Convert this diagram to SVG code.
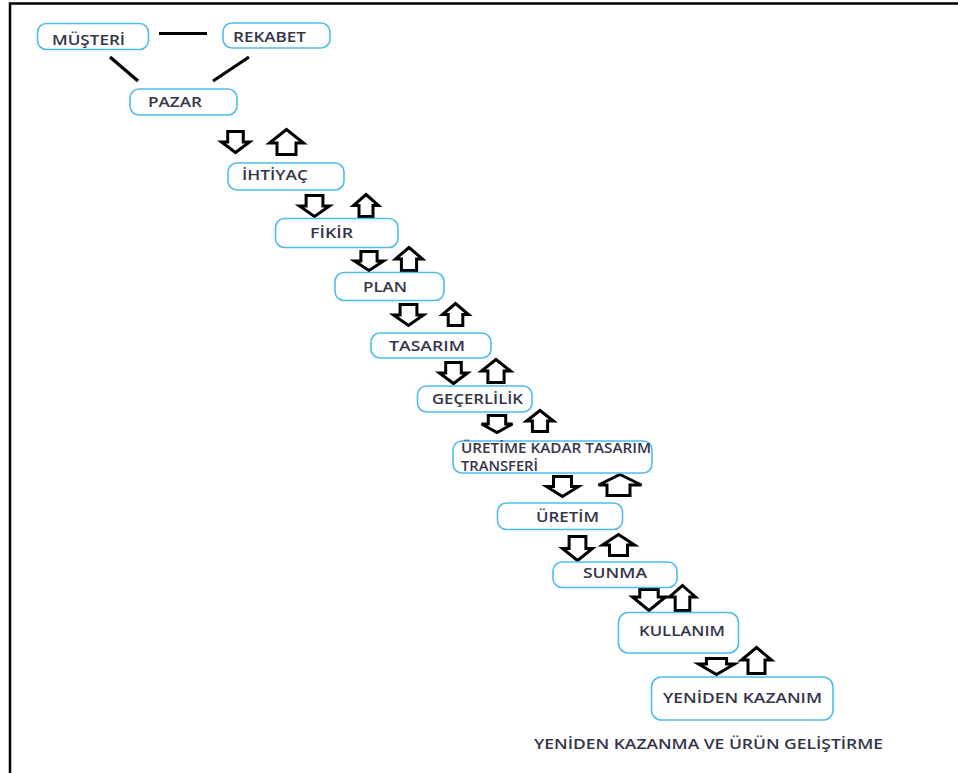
<svg xmlns="http://www.w3.org/2000/svg" width="958" height="773" viewBox="0 0 958 773">
<style>
.box{fill:#fff;stroke:#4fbdec;stroke-width:1.6}
.lbl{font-family:"Open Sans","Liberation Sans",sans-serif;font-weight:600;font-size:14px;fill:#35354a}
.ln{stroke:#000;stroke-width:3.2;fill:none}
.ar{fill:#fff;stroke:#000;stroke-width:3;stroke-linejoin:miter}
</style>
<rect x="0" y="0" width="958" height="773" fill="#fff"/>
<path d="M10 773V3.5H958" fill="none" stroke="#000" stroke-width="2.5"/>
<g id="connectors">
<line class="ln" x1="159" y1="33.5" x2="207" y2="33.5"/>
<line class="ln" x1="110" y1="57" x2="138" y2="81"/>
<line class="ln" x1="249" y1="57" x2="213" y2="81"/>
<path class="ar" d="M227.7 131.5H243.3V142H249.5L235.5 152.5L221.5 142H227.7Z"/>
<path class="ar" d="M306.1 195.5H322.9V206H329.5L314.5 216.5L299.5 206H306.1Z"/>
<path class="ar" d="M360.9 251.5H377.1V261H383.5L369 270.5L354.5 261H360.9Z"/>
<path class="ar" d="M400.1 304.5H416.9V315H423.5L408.5 325.5L393.5 315H400.1Z"/>
<path class="ar" d="M445.7 362.5H461.3V373H467.5L453.5 383.5L439.5 373H445.7Z"/>
<path class="ar" d="M488.3 415.5H505.7V424H512.5L497 432.5L481.5 424H488.3Z"/>
<path class="ar" d="M553.5 476.5H571.5V486.5H578.5L562.5 496.5L546.5 486.5H553.5Z"/>
<path class="ar" d="M569.1 536.5H585.9V548.5H592.5L577.5 560.5L562.5 548.5H569.1Z"/>
<path class="ar" d="M639.8 589.5H658.2V597H665.5L649 610.5L632.5 597H639.8Z"/>
<path class="ar" d="M706.4 658.5H726.6V664H734.5L716.5 674.5L698.5 664H706.4Z"/>
<path class="ar" d="M286.5 129.5L303.5 143H296V154.5H277V143H269.5Z"/>
<path class="ar" d="M366 194.5L378.5 205.5H373V216.5H359V205.5H353.5Z"/>
<path class="ar" d="M409 247.5L422.5 259H416.6V270.5H401.4V259H395.5Z"/>
<path class="ar" d="M455.5 303.5L468.5 314.5H462.8V325.5H448.2V314.5H442.5Z"/>
<path class="ar" d="M496 359.5L510.5 371H504.1V382.5H487.9V371H481.5Z"/>
<path class="ar" d="M540 410.5L553.5 421H547.6V431.5H532.4V421H526.5Z"/>
<path class="ar" d="M620 474.5L641.5 485H630V495.5H607V485H598.5Z"/>
<path class="ar" d="M618.5 534.5L634.5 545H627.5V555.5H609.5V545H602.5Z"/>
<path class="ar" d="M682.5 585.5L695.5 597H689.8V610.5H675.2V597H669.5Z"/>
<path class="ar" d="M756.5 647.5L771.5 660H765V673.5H748V660H741.5Z"/>
</g>
<g id="musteri"><rect class="box" x="37.5" y="23.5" width="111" height="26" rx="9"/><text class="lbl" x="52" y="45" textLength="73" lengthAdjust="spacingAndGlyphs">MÜŞTERİ</text></g>
<g id="rekabet"><rect class="box" x="223" y="23" width="107" height="25" rx="9"/><text class="lbl" x="233" y="42" textLength="73" lengthAdjust="spacingAndGlyphs">REKABET</text></g>
<g id="pazar"><rect class="box" x="130" y="89" width="107" height="26" rx="9"/><text class="lbl" x="148" y="107" textLength="54" lengthAdjust="spacingAndGlyphs">PAZAR</text></g>
<g id="ihtiyac"><rect class="box" x="228" y="163" width="116" height="27" rx="9"/><text class="lbl" x="242" y="179.5" textLength="66" lengthAdjust="spacingAndGlyphs">İHTİYAÇ</text></g>
<g id="fikir"><rect class="box" x="275.5" y="218.5" width="122.5" height="29" rx="9"/><text class="lbl" x="310" y="238" textLength="43" lengthAdjust="spacingAndGlyphs">FİKİR</text></g>
<g id="plan"><rect class="box" x="335" y="272.5" width="109" height="28" rx="9"/><text class="lbl" x="363" y="292" textLength="44" lengthAdjust="spacingAndGlyphs">PLAN</text></g>
<g id="tasarim"><rect class="box" x="371" y="333" width="120" height="25" rx="9"/><text class="lbl" x="389" y="351" textLength="76" lengthAdjust="spacingAndGlyphs">TASARIM</text></g>
<g id="gecerlilik"><rect class="box" x="417.5" y="386" width="114.5" height="26" rx="9"/><text class="lbl" x="432" y="404" textLength="91" lengthAdjust="spacingAndGlyphs">GEÇERLİLİK</text></g>
<g id="uretime-kadar"><rect class="box" x="453" y="441" width="199" height="32" rx="9"/><text class="lbl" font-size="10.5"><tspan x="461" y="452.5" textLength="190" lengthAdjust="spacingAndGlyphs">ÜRETİME KADAR TASARIM</tspan><tspan x="461" y="470.5" textLength="77" lengthAdjust="spacingAndGlyphs">TRANSFERİ</tspan></text></g>
<g id="uretim"><rect class="box" x="497.5" y="503" width="125" height="26.5" rx="9"/><text class="lbl" x="536" y="522" textLength="63" lengthAdjust="spacingAndGlyphs">ÜRETİM</text></g>
<g id="sunma"><rect class="box" x="553" y="562" width="124" height="25.5" rx="9"/><text class="lbl" x="583" y="578" textLength="64" lengthAdjust="spacingAndGlyphs">SUNMA</text></g>
<g id="kullanim"><rect class="box" x="618.5" y="612.5" width="120" height="40.5" rx="10"/><text class="lbl" x="639" y="636" textLength="86" lengthAdjust="spacingAndGlyphs">KULLANIM</text></g>
<g id="yeniden-kazanim"><rect class="box" x="651.5" y="677" width="181.5" height="43" rx="10"/><text class="lbl" x="663" y="703" textLength="159" lengthAdjust="spacingAndGlyphs">YENİDEN KAZANIM</text></g>
<text class="lbl" x="534" y="749" textLength="349" lengthAdjust="spacingAndGlyphs">YENİDEN KAZANMA VE ÜRÜN GELİŞTİRME</text>
</svg>
